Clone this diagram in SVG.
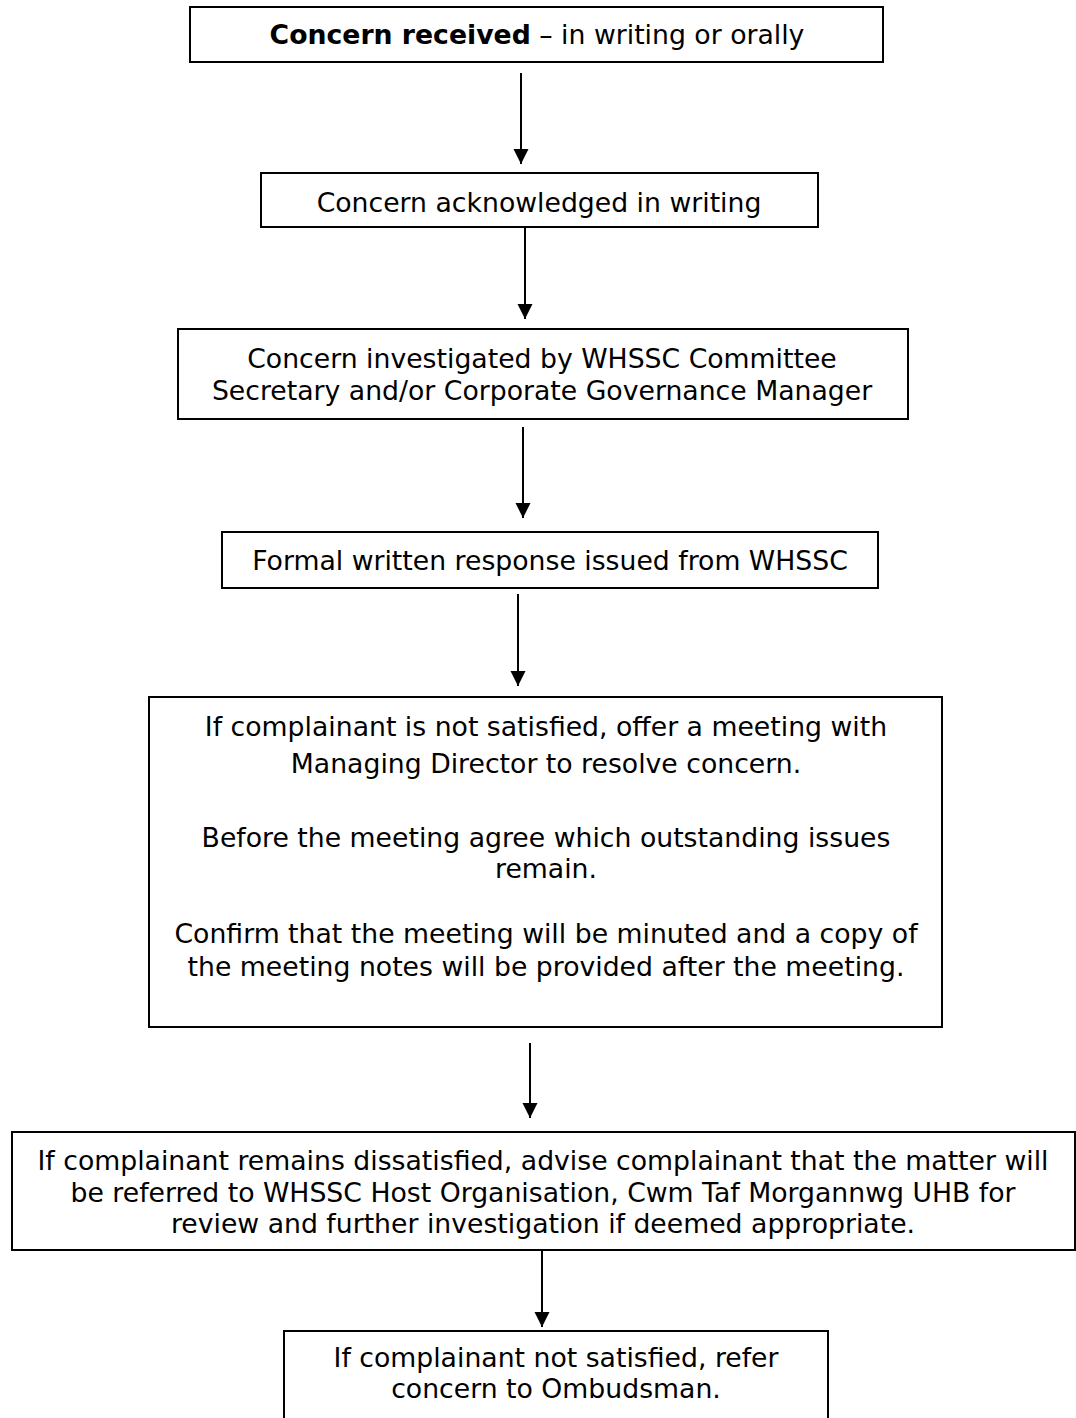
<svg xmlns="http://www.w3.org/2000/svg" width="1076" height="1418" viewBox="0 0 1076 1418">
<defs>
<style>
.box{fill:#fff;stroke:#000;stroke-width:2}
.t{font-family:"DejaVu Sans","Verdana",sans-serif;font-size:26.7px;fill:#000;text-anchor:middle}
.b{font-weight:bold}
.c{stroke:#000;stroke-width:2;fill:none;marker-end:url(#ah)}
</style>
<marker id="ah" markerUnits="userSpaceOnUse" markerWidth="16" markerHeight="16" refX="15" refY="7.5" orient="auto">
<path d="M0,0 L15,7.5 L0,15 z" fill="#000"/>
</marker>
</defs>
<rect width="1076" height="1418" fill="#fff"/>
<g id="connectors">
<line class="c" x1="521" y1="73" x2="521" y2="164"/>
<line class="c" x1="525" y1="228" x2="525" y2="319"/>
<line class="c" x1="523" y1="427" x2="523" y2="518"/>
<line class="c" x1="518" y1="594" x2="518" y2="686"/>
<line class="c" x1="530" y1="1043" x2="530" y2="1118"/>
<line class="c" x1="542" y1="1250" x2="542" y2="1327"/>
</g>
<g id="n1">
<rect class="box" x="190" y="7" width="693" height="55"/>
<text class="t" x="537" y="44"><tspan class="b">Concern received</tspan> – in writing or orally</text>
</g>
<g id="n2">
<rect class="box" x="261" y="173" width="557" height="54"/>
<text class="t" x="539" y="212">Concern acknowledged in writing</text>
</g>
<g id="n3">
<rect class="box" x="178" y="329" width="730" height="90"/>
<text class="t" x="542" y="368">Concern investigated by WHSSC Committee</text>
<text class="t" x="542" y="400">Secretary and/or Corporate Governance Manager</text>
</g>
<g id="n4">
<rect class="box" x="222" y="532" width="656" height="56"/>
<text class="t" x="550" y="570">Formal written response issued from WHSSC</text>
</g>
<g id="n5">
<rect class="box" x="149" y="697" width="793" height="330"/>
<text class="t" x="546" y="736">If complainant is not satisfied, offer a meeting with</text>
<text class="t" x="546" y="773">Managing Director to resolve concern.</text>
<text class="t" x="546" y="847">Before the meeting agree which outstanding issues</text>
<text class="t" x="546" y="878">remain.</text>
<text class="t" x="546" y="943">Confirm that the meeting will be minuted and a copy of</text>
<text class="t" x="546" y="976">the meeting notes will be provided after the meeting.</text>
</g>
<g id="n6">
<rect class="box" x="12" y="1132" width="1063" height="118"/>
<text class="t" x="543" y="1170">If complainant remains dissatisfied, advise complainant that the matter will</text>
<text class="t" x="543" y="1202">be referred to WHSSC Host Organisation, Cwm Taf Morgannwg UHB for</text>
<text class="t" x="543" y="1233">review and further investigation if deemed appropriate.</text>
</g>
<g id="n7">
<rect class="box" x="284" y="1331" width="544" height="100"/>
<text class="t" x="556" y="1367">If complainant not satisfied, refer</text>
<text class="t" x="556" y="1398">concern to Ombudsman.</text>
</g>
</svg>
